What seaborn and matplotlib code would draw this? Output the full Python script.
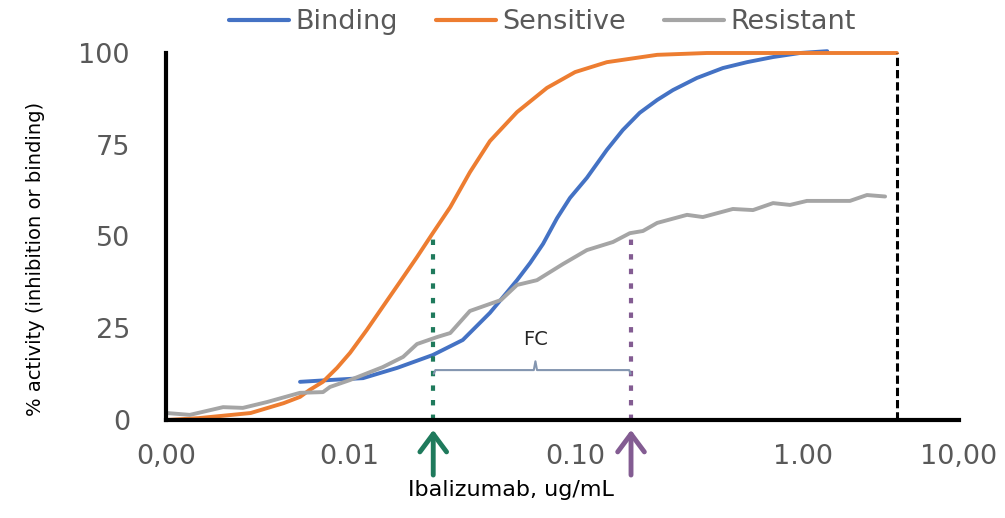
import numpy as np
import pandas as pd
import matplotlib
matplotlib.use("Agg")
import matplotlib.pyplot as plt
import matplotlib.transforms as mtransforms
import seaborn as sns

# values: concentration (ug/mL) vs % activity
bind_conc = [0.0054, 0.0079, 0.0114, 0.0157, 0.0219, 0.029, 0.0374, 0.0423, 0.0482,
             0.0545, 0.0615, 0.0701, 0.0791, 0.0927, 0.114, 0.136, 0.164, 0.199, 0.237,
             0.309, 0.412, 0.538, 0.718, 0.967, 1.43]
bind_act = [10.4, 10.9, 11.4, 14.2, 17.7, 21.8, 29.2, 33.5, 38.1,
            42.8, 48.0, 55.0, 60.5, 66.0, 73.6, 79.0, 83.7, 87.2, 89.9,
            93.2, 95.9, 97.5, 98.9, 100, 100.5]

sens_conc = [0.001, 0.0015, 0.0029, 0.0044, 0.0054, 0.0061, 0.0072, 0.0086, 0.0101, 0.0118,
             0.0137, 0.0161, 0.0189, 0.0219, 0.0258, 0.031, 0.0374, 0.0482, 0.0638, 0.083,
             0.114, 0.199, 0.345, 1.0, 4.0]
sens_act = [0, 0.5, 1.9, 4.6, 6.3, 8.2, 10.4, 14.2, 18.3, 24.5,
            30.8, 37.6, 44.4, 50.9, 58.0, 67.5, 76.0, 83.9, 90.5, 94.8,
            97.5, 99.5, 100, 100, 100]

res_conc = [0.00101, 0.00135, 0.00205, 0.00263, 0.00357, 0.00539, 0.00721, 0.00787, 0.0101,
            0.0137, 0.0166, 0.0189, 0.0228, 0.0258, 0.031, 0.0415, 0.0482, 0.0581, 0.0741,
            0.0927, 0.122, 0.147, 0.17, 0.199, 0.277, 0.33, 0.46, 0.575, 0.718, 0.866, 1.06,
            2.0, 2.57, 3.36]
res_act = [1.9, 1.4, 3.5, 3.3, 4.9, 7.4, 7.6, 9.0, 10.9,
           14.4, 17.2, 20.7, 22.6, 23.7, 29.7, 32.7, 36.8, 38.1, 42.5,
           46.3, 48.5, 50.9, 51.5, 53.7, 55.9, 55.3, 57.5, 57.2, 59.1, 58.6, 59.7,
           59.7, 61.3, 60.9]

ic50_sens = 0.022      # green marker
ic50_res = 0.149       # purple marker
top_conc = 4.0         # black dashed line
fc_level = 13.6

x_ticks = [0.001, 0.01, 0.1, 1, 10]
x_ticklabels = ["0,00", "0.01", "0.10", "1.00", "10,00"]
y_ticks = [0, 25, 50, 75, 100]

palette = {"Binding": "#4472c4", "Sensitive": "#ed7d31", "Resistant": "#a5a5a5"}
green = "#1f7a5c"
purple = "#835c92"

# decades are not evenly spaced on the original axis -> piecewise log scale
decade_log = [-3, -2, -1, 0, 1]
decade_pos = [0, 183, 429, 637, 793]


def fwd(x):
    lx = np.log10(np.clip(np.asarray(x, dtype=float), 1e-12, None))
    return np.interp(lx, decade_log, decade_pos)


def inv(v):
    return 10 ** np.interp(np.asarray(v, dtype=float), decade_pos, decade_log)


df = pd.concat([
    pd.DataFrame({"conc": bind_conc, "act": bind_act, "curve": "Binding"}),
    pd.DataFrame({"conc": sens_conc, "act": sens_act, "curve": "Sensitive"}),
    pd.DataFrame({"conc": res_conc, "act": res_act, "curve": "Resistant"}),
], ignore_index=True)

sns.set_style("white")
plt.rcParams["font.family"] = ["DejaVu Sans"]

fig = plt.figure(figsize=(10.05, 5.18), dpi=100)
ax = fig.add_axes([166 / 1005, 1 - 420 / 518, 793 / 1005, 367 / 518])
ax.set_xscale("function", functions=(fwd, inv))

sns.lineplot(data=df, x="conc", y="act", hue="curve", palette=palette,
             hue_order=["Binding", "Sensitive", "Resistant"],
             estimator=None, sort=False, lw=2.8, ax=ax)
for line in ax.lines:
    line.set_clip_on(False)
    line.set_solid_joinstyle("round")

# IC50 markers and top concentration
ax.vlines(ic50_sens, 0, 50, color=green, lw=3, linestyles=[(0, (1.3, 2.2))], clip_on=False)
ax.vlines(ic50_res, 0, 50, color=purple, lw=3, linestyles=[(0, (1.3, 2.2))], clip_on=False)
ax.vlines(top_conc, 0, 100, color="black", lw=2.2, linestyles=[(0, (2.7, 1.3))], clip_on=False)

# FC bracket
fc_mid = np.sqrt(ic50_sens * ic50_res)
bx = [ic50_sens * 1.005, ic50_sens * 1.02, fc_mid * 0.985, fc_mid, fc_mid * 1.015,
      ic50_res * 0.98, ic50_res * 0.995]
by = [fc_level - 1.0, fc_level, fc_level, fc_level + 2.4, fc_level, fc_level, fc_level - 1.0]
ax.plot(bx, by, color="#8496b0", lw=1.5)
ax.text(fc_mid, 21.8, "FC", ha="center", va="center", fontsize=14, color="#262626")

# arrows under the axis
for xv, c in [(ic50_sens, green), (ic50_res, purple)]:
    ax.annotate("", xy=(xv, -2.7), xytext=(xv, -15),
                arrowprops=dict(arrowstyle="->,head_length=0.43,head_width=0.32",
                                lw=3.5, color=c, mutation_scale=30,
                                shrinkA=0, shrinkB=0),
                annotation_clip=False)

ax.set_xlim(0.001, 10)
ax.set_ylim(0, 100)
ax.set_xticks(x_ticks, x_ticklabels)
ax.xaxis.set_minor_locator(matplotlib.ticker.NullLocator())
ax.set_yticks(y_ticks)

sns.despine(ax=ax)
for s in ["left", "bottom"]:
    ax.spines[s].set_linewidth(3)
    ax.spines[s].set_color("black")

ax.tick_params(axis="both", direction="out", length=8, width=3, color="black",
               labelsize=19.5, labelcolor="#595959")
ax.tick_params(axis="x", pad=9)
ax.tick_params(axis="y", pad=18)

# the 0.10 label sits a bit left of its tick in the original
lab = ax.get_xticklabels()[2]
lab.set_transform(lab.get_transform() +
                  mtransforms.ScaledTranslation(-0.2, 0, fig.dpi_scale_trans))

ax.set_ylabel("% activity (inhibition or binding)", fontsize=14, color="black")
ax.yaxis.set_label_coords(-0.153, 0.44)
ax.set_xlabel("Ibalizumab, ug/mL", fontsize=16, color="black")
ax.xaxis.set_label_coords(0.435, -0.163)

sns.move_legend(ax, "center", bbox_to_anchor=(0.54, 0.957), bbox_transform=fig.transFigure,
                ncol=3, frameon=False, title=None, fontsize=19.5, handlelength=2.2,
                handletextpad=0.25, columnspacing=1.4, labelcolor="#595959")
for h in ax.get_legend().get_lines():
    h.set_linewidth(3)

fig.savefig("out.png", dpi=100)
